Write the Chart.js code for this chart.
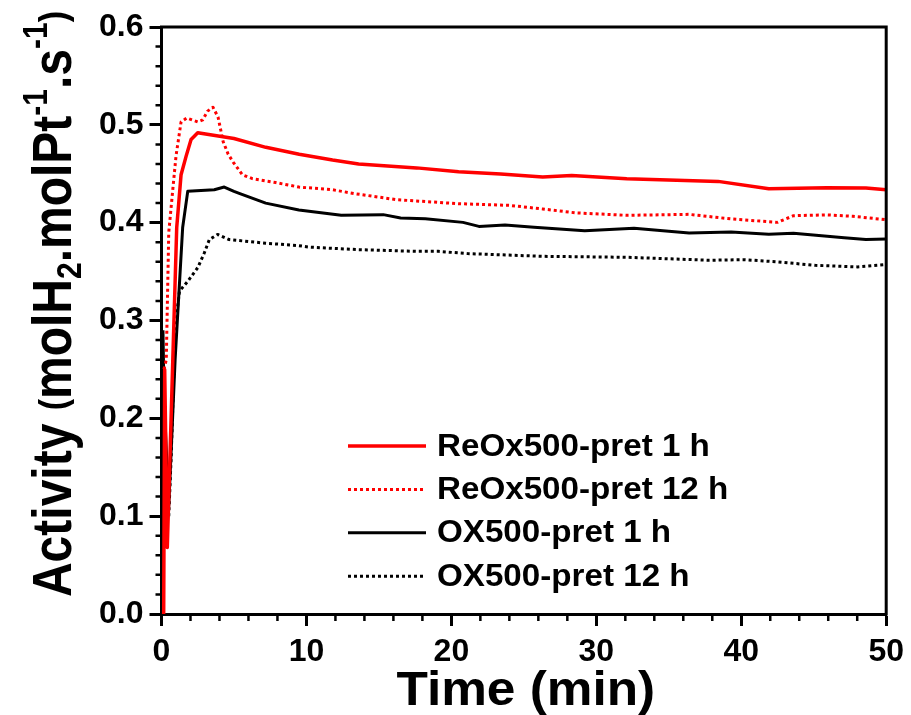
<!DOCTYPE html>
<html>
<head>
<meta charset="utf-8">
<script src="https://cdn.jsdelivr.net/npm/chart.js@4/dist/chart.umd.min.js"></script>
<style>
  html, body { margin: 0; padding: 0; background: #fff; }
  #wrap { width: 911px; height: 715px; position: relative; }
</style>
</head>
<body>
<div id="wrap"><canvas id="c" width="911" height="715"></canvas></div>
<script>
// ---- Data ----
const seriesLabels = ["ReOx500-pret 1 h", "ReOx500-pret 12 h", "OX500-pret 1 h", "OX500-pret 12 h"];

const reox1hTime = [0.15, 0.22, 0.4, 0.78, 1.05, 1.35, 1.7, 2.04, 2.5, 5.0, 7.2, 9.5, 11.8, 13.6, 17.6, 20.5, 23.4, 26.3, 28.3, 32.1, 38.4, 41.9, 45.9, 48.6, 50];
const reox1hAct  = [0.0, 0.25, 0.068, 0.26, 0.395, 0.449, 0.468, 0.485, 0.492, 0.486, 0.477, 0.470, 0.464, 0.460, 0.456, 0.452, 0.4497, 0.4466, 0.4483, 0.4449, 0.4422, 0.4347, 0.4357, 0.4354, 0.4337];

const reox12hTime = [0.17, 0.33, 0.5, 0.78, 1.0, 1.35, 1.74, 2.5, 2.84, 3.18, 3.55, 3.9, 4.25, 4.6, 4.94, 5.58, 6.27, 7.88, 9.48, 11.77, 13.37, 16.2, 20.5, 24.0, 26.3, 28.6, 32.1, 36.4, 39.3, 42.5, 43.6, 45.9, 47.7, 50];
const reox12hAct  = [0.25, 0.26, 0.39, 0.434, 0.468, 0.503, 0.507, 0.503, 0.505, 0.514, 0.518, 0.508, 0.483, 0.470, 0.462, 0.449, 0.445, 0.441, 0.4364, 0.4337, 0.4296, 0.4235, 0.4194, 0.4177, 0.414, 0.410, 0.4075, 0.4085, 0.4038, 0.4003, 0.4071, 0.408, 0.4065, 0.403];

const ox1hTime = [0.1, 0.18, 0.5, 0.94, 1.46, 1.81, 3.64, 4.33, 5.0, 5.36, 7.19, 9.48, 12.4, 15.3, 16.5, 18.2, 20.8, 21.9, 23.7, 25.7, 29.2, 32.6, 36.4, 39.3, 41.9, 43.6, 47.1, 48.6, 50];
const ox1hAct  = [0.29, 0.22, 0.11, 0.26, 0.395, 0.432, 0.4337, 0.4364, 0.432, 0.430, 0.420, 0.413, 0.4075, 0.4082, 0.4048, 0.4041, 0.4003, 0.3962, 0.3976, 0.3952, 0.3918, 0.3942, 0.3895, 0.3905, 0.3881, 0.3891, 0.3847, 0.3827, 0.3834];

const ox12hTime = [0.5, 0.66, 0.89, 1.0, 1.12, 1.24, 1.81, 2.5, 2.95, 3.3, 3.87, 4.67, 7.19, 9.48, 10.2, 13.6, 17.6, 19.1, 21.1, 26.3, 32.1, 37.8, 40.2, 42.5, 45.1, 48.0, 50];
const ox12hAct  = [0.10, 0.158, 0.265, 0.291, 0.315, 0.33, 0.340, 0.354, 0.369, 0.3827, 0.388, 0.3827, 0.379, 0.3765, 0.375, 0.3724, 0.3707, 0.3707, 0.3684, 0.3656, 0.3646, 0.3616, 0.3622, 0.3599, 0.3564, 0.3548, 0.3571];

const xTickValues = [0, 10, 20, 30, 40, 50];
const yTickValues = [0.0, 0.1, 0.2, 0.3, 0.4, 0.5, 0.6];

// ---- Helpers ----
function pts(t, v) { return t.map((x, i) => ({ x: x, y: v[i] })); }
const FONT = '"Liberation Sans", Arial, "DejaVu Sans", sans-serif';

const frameAndTicks = {
  id: 'frameAndTicks',
  afterDraw(chart) {
    const ctx = chart.ctx, a = chart.chartArea;
    const xs = chart.scales.x, ys = chart.scales.y;
    ctx.save();
    ctx.strokeStyle = '#000';
    // minor ticks
    ctx.lineWidth = 2.5;
    ctx.beginPath();
    for (let t = 0; t <= 50.001; t += 2) {
      if (Math.abs(t % 10) < 1e-6) continue;
      const px = xs.getPixelForValue(t);
      ctx.moveTo(px, a.bottom); ctx.lineTo(px, a.bottom + 7);
    }
    for (let k = 0; k <= 30; k++) {
      if (k % 5 === 0) continue;
      const py = ys.getPixelForValue(k * 0.02);
      ctx.moveTo(a.left, py); ctx.lineTo(a.left - 6, py);
    }
    ctx.stroke();
    // top and right frame
    ctx.lineWidth = 3;
    ctx.beginPath();
    ctx.moveTo(a.left - 1.5, a.top); ctx.lineTo(a.right, a.top); ctx.lineTo(a.right, a.bottom + 1.5);
    ctx.stroke();

    // x title
    ctx.fillStyle = '#000';
    ctx.font = 'bold 48px ' + FONT;
    ctx.textAlign = 'center';
    ctx.textBaseline = 'alphabetic';
    ctx.save();
    ctx.translate((a.left + a.right) / 2 + 2, 705);
    ctx.scale(1.07, 1);
    ctx.fillText('Time (min)', 0, 0);
    ctx.restore();

    // y title with sub/superscripts
    const big = 'bold 48px ' + FONT, mid = 'bold 34px ' + FONT, small = 'bold 30px ' + FONT;
    const parts = [
      ['Activity ', big, 0], ['(', mid, -4], ['molH', big, 0], ['2', small, 9],
      ['.molPt', big, 0], ['-1', small, -21], ['.s', big, 0], ['-1', small, -21], [')', mid, -4]
    ];
    let total = 0;
    parts.forEach(p => { ctx.font = p[1]; total += ctx.measureText(p[0]).width; });
    ctx.save();
    ctx.translate(71, 304);
    ctx.rotate(-Math.PI / 2);
    ctx.scale(1, 1.15);
    ctx.textAlign = 'left';
    let cx = -total / 2;
    parts.forEach(p => { ctx.font = p[1]; ctx.fillText(p[0], cx, p[2]); cx += ctx.measureText(p[0]).width; });
    ctx.restore();
    ctx.restore();

    // legend
    ctx.save();
    chart.data.datasets.forEach((ds, i) => {
      const y = 446 + i * 43.4;
      ctx.strokeStyle = ds.borderColor;
      ctx.lineWidth = ds.borderWidth;
      ctx.setLineDash(ds.borderDash || []);
      ctx.beginPath(); ctx.moveTo(348, y); ctx.lineTo(426, y); ctx.stroke();
      ctx.setLineDash([]);
      ctx.fillStyle = '#000';
      ctx.font = 'bold 31px ' + FONT;
      ctx.textBaseline = 'middle';
      ctx.textAlign = 'left';
      ctx.save();
      ctx.translate(437, y + 1);
      ctx.scale(1.07, 1);
      ctx.fillText(ds.label, 0, 0);
      ctx.restore();
    });
    ctx.restore();
  }
};

new Chart(document.getElementById('c'), {
  type: 'line',
  data: {
    datasets: [
      { label: seriesLabels[0], data: pts(reox1hTime, reox1hAct), borderColor: '#ff0000', borderWidth: 3.5 },
      { label: seriesLabels[1], data: pts(reox12hTime, reox12hAct), borderColor: '#ff0000', borderWidth: 3, borderDash: [3, 3] },
      { label: seriesLabels[2], data: pts(ox1hTime, ox1hAct), borderColor: '#000000', borderWidth: 3 },
      { label: seriesLabels[3], data: pts(ox12hTime, ox12hAct), borderColor: '#000000', borderWidth: 3, borderDash: [3, 3] }
    ]
  },
  options: {
    responsive: false,
    animation: false,
    events: [],
    elements: { point: { radius: 0 }, line: { tension: 0, borderCapStyle: 'butt', borderJoinStyle: 'round' } },
    layout: { padding: { left: 0, top: 27, right: 23, bottom: 0 } },
    plugins: { legend: { display: false }, tooltip: { enabled: false } },
    scales: {
      x: {
        type: 'linear', min: 0, max: 50,
        afterFit(s) { s.height = 101; },
        afterBuildTicks(s) { s.ticks = xTickValues.map(v => ({ value: v })); },
        ticks: { font: { family: FONT, size: 32, weight: 'bold' }, color: '#000', padding: 7, maxRotation: 0,
                 callback: v => String(v) },
        grid: { drawOnChartArea: false, drawTicks: true, tickLength: 12, tickWidth: 3, tickColor: '#000' },
        border: { display: true, color: '#000', width: 3 }
      },
      y: {
        type: 'linear', min: 0, max: 0.6,
        afterFit(s) { s.width = 161.5; },
        afterBuildTicks(s) { s.ticks = yTickValues.map(v => ({ value: v })); },
        ticks: { font: { family: FONT, size: 32, weight: 'bold' }, color: '#000', padding: 6,
                 callback: v => Number(v).toFixed(1) },
        grid: { drawOnChartArea: false, drawTicks: true, tickLength: 12, tickWidth: 3, tickColor: '#000' },
        border: { display: true, color: '#000', width: 3 }
      }
    }
  },
  plugins: [frameAndTicks]
});
</script>
</body>
</html>
